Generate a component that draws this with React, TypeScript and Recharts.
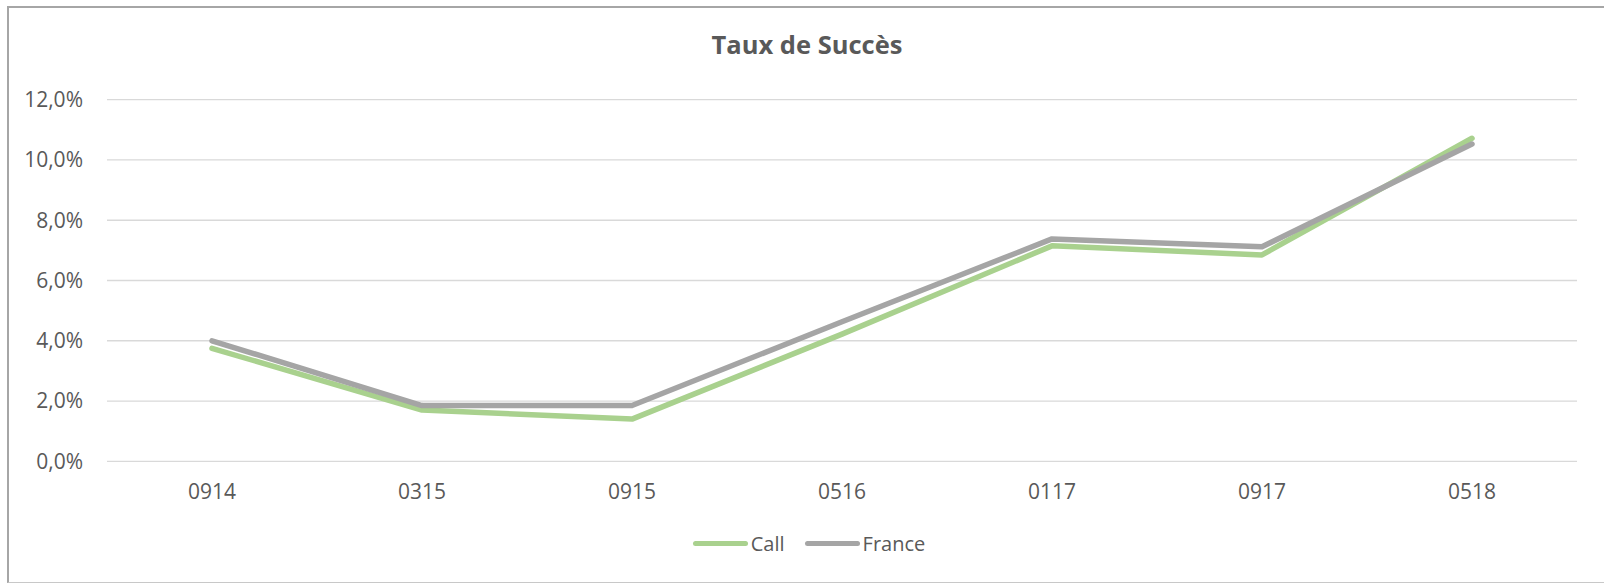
import React from 'react';
import { LineChart, Line, XAxis, YAxis, CartesianGrid } from 'recharts';

const categories = ['0914', '0315', '0915', '0516', '0117', '0917', '0518'];
const callValues = [3.75, 1.7, 1.4, 4.22, 7.15, 6.85, 10.72];
const franceValues = [4.0, 1.85, 1.85, 4.63, 7.38, 7.12, 10.53];
const yTicks = [0, 2, 4, 6, 8, 10, 12];
const seriesNames = ['Call', 'France'];

const data = categories.map((c, i) => ({ cat: c, Call: callValues[i], France: franceValues[i] }));

const FONT = '"Open Sans", sans-serif';
const TEXT = '#595959';
const CALL = '#A9D18E';
const FRANCE = '#A5A5A5';
const COLORS = [CALL, FRANCE];

const fmt = (v: number) => `${v.toFixed(1).replace('.', ',')}%`;

export default function App() {
  return (
    <div style={{ position: 'absolute', left: 0, top: 0, width: 1604, height: 584, background: '#fff', overflow: 'hidden' }}>
      <div
        style={{
          position: 'absolute',
          left: 7,
          top: 6,
          width: 1597,
          height: 577,
          borderLeft: '2px solid #a6a6a6',
          borderTop: '2px solid #a6a6a6',
          borderBottom: '1px solid #c8c8c8',
          boxSizing: 'border-box',
        }}
      />
      <div
        style={{
          position: 'absolute',
          left: 0,
          width: 1614,
          top: 27,
          textAlign: 'center',
          fontFamily: FONT,
          fontWeight: 700,
          fontSize: 25.5,
          color: TEXT,
        }}
      >
        Taux de Succès
      </div>
      <div style={{ position: 'absolute', left: 0, top: 0 }}>
        <LineChart
          width={1604}
          height={584}
          data={data}
          margin={{ top: 99.7, right: 27, bottom: 92.7, left: 27 }}
        >
          <CartesianGrid vertical={false} stroke="#d9d9d9" strokeWidth={1.3} />
          <XAxis
            dataKey="cat"
            height={30}
            axisLine={false}
            tickLine={false}
            tickSize={0}
            tickMargin={23}
            padding={{ left: 105, right: 105 }}
            tick={{ fill: TEXT, fontSize: 21, fontFamily: FONT }}
            interval={0}
          />
          <YAxis
            width={80}
            domain={[0, 12]}
            ticks={yTicks}
            tickFormatter={fmt}
            axisLine={false}
            tickLine={false}
            tickSize={0}
            tickMargin={24}
            tick={{ fill: TEXT, fontSize: 21, fontFamily: FONT }}
          />
          <Line
            type="linear"
            dataKey="Call"
            stroke={CALL}
            strokeWidth={5.5}
            dot={false}
            activeDot={false}
            strokeLinecap="round"
            strokeLinejoin="round"
            isAnimationActive={false}
          />
          <Line
            type="linear"
            dataKey="France"
            stroke={FRANCE}
            strokeWidth={5.5}
            dot={false}
            activeDot={false}
            strokeLinecap="round"
            strokeLinejoin="round"
            isAnimationActive={false}
          />
        </LineChart>
      </div>
      <div
        style={{
          position: 'absolute',
          left: 0,
          width: 1618,
          top: 530,
          display: 'flex',
          justifyContent: 'center',
          alignItems: 'center',
          fontFamily: FONT,
          fontSize: 20,
          color: TEXT,
        }}
      >
        {seriesNames.map((name, i) => (
          <React.Fragment key={name}>
            <span style={{ display: 'inline-block', width: 55, height: 5.5, borderRadius: 3, background: COLORS[i], marginRight: 3 }} />
            <span style={{ marginRight: i === 0 ? 20 : 0 }}>{name}</span>
          </React.Fragment>
        ))}
      </div>
    </div>
  );
}
